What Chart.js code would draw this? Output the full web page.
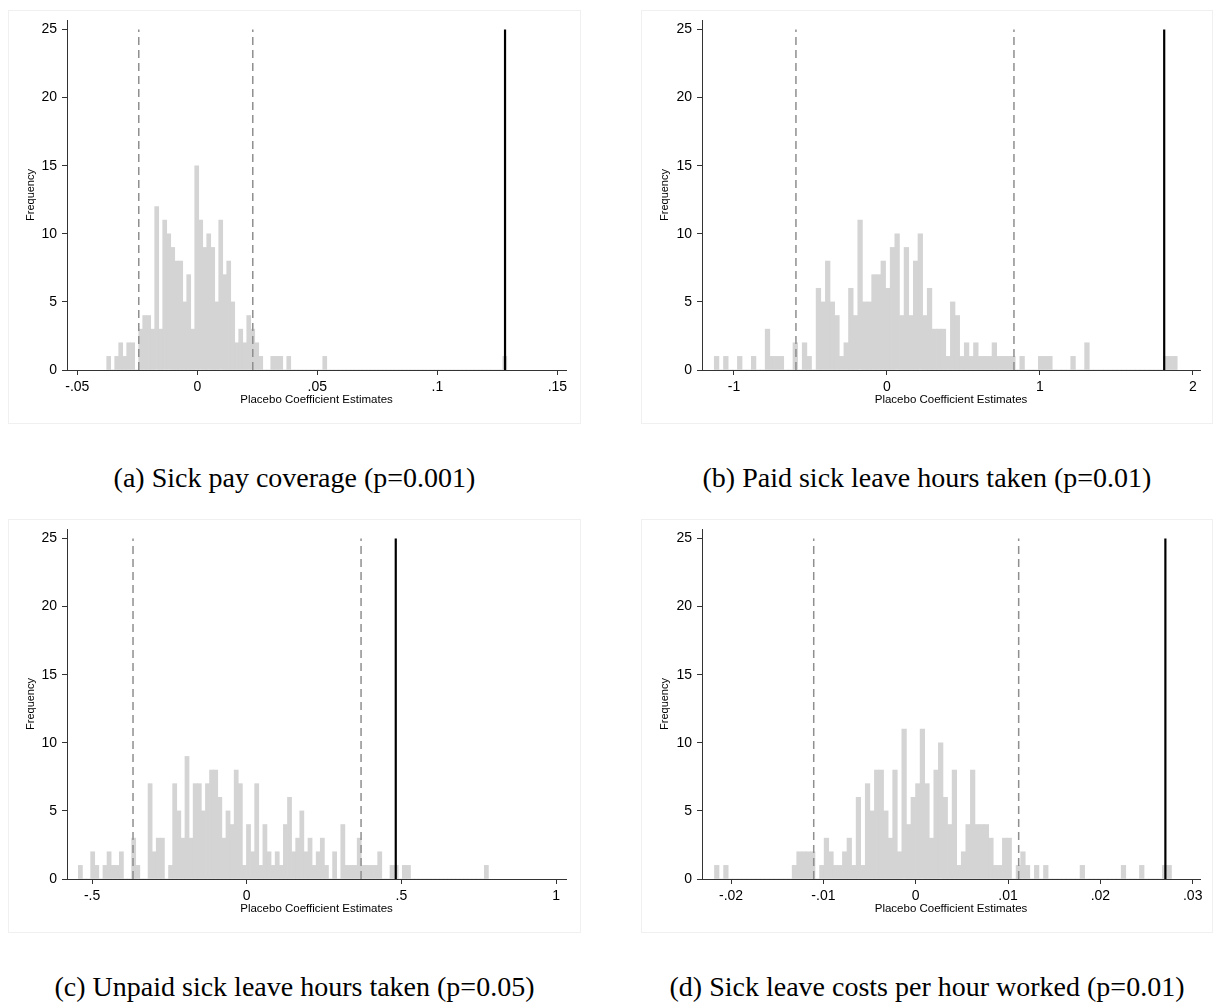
<!DOCTYPE html>
<html>
<head>
<meta charset="utf-8">
<script src="https://cdn.jsdelivr.net/npm/chart.js@4.4.1/dist/chart.umd.min.js"></script>
<style>
  body { margin: 0; background: #fff; width: 1213px; height: 1007px; position: relative; overflow: hidden; }
  .panel { position: absolute; outline: 1px solid #f0f0f0; outline-offset: -1px; }
  .panel canvas { position: absolute; left: 0; top: 0; }
  .caption { position: absolute; font-family: "Liberation Serif", serif; font-size: 28px; line-height: 32px;
             color: #000; text-align: center; white-space: nowrap; }
</style>
</head>
<body>
<div class="panel" style="left:8px;top:10px;width:573px;height:414px"><canvas id="chart-a" width="573" height="414"></canvas></div>
<div class="panel" style="left:641px;top:10px;width:572px;height:414px"><canvas id="chart-b" width="572" height="414"></canvas></div>
<div class="panel" style="left:8px;top:519px;width:573px;height:414px"><canvas id="chart-c" width="573" height="414"></canvas></div>
<div class="panel" style="left:641px;top:519px;width:572px;height:414px"><canvas id="chart-d" width="572" height="414"></canvas></div>

<div class="caption" style="left:8px;top:462px;width:573px">(a) Sick pay coverage (p=0.001)</div>
<div class="caption" style="left:641px;top:462px;width:572px">(b) Paid sick leave hours taken (p=0.01)</div>
<div class="caption" style="left:8px;top:971px;width:573px">(c) Unpaid sick leave hours taken (p=0.05)</div>
<div class="caption" style="left:641px;top:971px;width:572px">(d) Sick leave costs per hour worked (p=0.01)</div>

<script>
// Shared y axis
const Y_TICKS = [0, 5, 10, 15, 20, 25];
const Y_MAX = 25.7;
const LINE_TOP = 25;

// (a) Sick pay coverage - 100 bins
const A_BIN_START = -0.03776;
const A_BIN_WIDTH = 0.001667;
const A_COUNTS = [
  1, 0, 1, 2, 1, 2, 2, 0, 3, 4, 4, 3, 12, 3, 11, 10, 9, 8, 8, 5,
  7, 3, 15, 11, 9, 10, 9, 5, 11, 7, 8, 5, 2, 3, 2, 4, 3, 2, 1, 0,
  0, 1, 1, 1, 0, 1, 0, 0, 0, 0, 0, 0, 0, 0, 1, 0, 0, 0, 0, 0,
  0, 0, 0, 0, 0, 0, 0, 0, 0, 0, 0, 0, 0, 0, 0, 0, 0, 0, 0, 0,
  0, 0, 0, 0, 0, 0, 0, 0, 0, 0, 0, 0, 0, 0, 0, 0, 0, 0, 0, 1
];
const A_XTICKS = [-0.05, 0, 0.05, 0.1, 0.15];
const A_XRANGE = [-0.0543, 0.1536];
const A_CI = [-0.0244, 0.0231];
const A_ACTUAL = 0.1282;

// (b) Paid sick leave hours taken
const B_BIN_START = -1.1288;
const B_BIN_WIDTH = 0.03026;
const B_COUNTS = [
  1, 0, 1, 0, 0, 1, 0, 0, 1, 0, 0, 3, 1, 1, 1, 0, 0, 2, 0, 2,
  1, 0, 6, 5, 8, 5, 4, 1, 2, 6, 4, 11, 5, 5, 7, 7, 8, 6, 9, 10,
  4, 9, 4, 8, 10, 4, 6, 3, 3, 3, 1, 5, 4, 1, 2, 1, 2, 1, 1, 1,
  2, 1, 1, 1, 1, 0, 1, 0, 0, 0, 1, 1, 1, 0, 0, 0, 0, 1, 0, 0,
  2, 0, 0, 0, 0, 0, 0, 0, 0, 0, 0, 0, 0, 0, 0, 0, 0, 1, 1, 1
];
const B_XTICKS = [-1, 0, 1, 2];
const B_XRANGE = [-1.209, 2.046];
const B_CI = [-0.595, 0.830];
const B_ACTUAL = 1.812;

// (c) Unpaid sick leave hours taken
const C_BIN_START = -0.5444;
const C_BIN_WIDTH = 0.013256;
const C_COUNTS = [
  1, 0, 0, 2, 1, 0, 1, 2, 1, 1, 2, 0, 0, 3, 1, 0, 0, 7, 2, 3,
  3, 0, 1, 7, 5, 3, 9, 3, 7, 7, 5, 7, 8, 8, 6, 3, 5, 4, 8, 7,
  1, 4, 2, 7, 1, 4, 2, 1, 2, 1, 4, 6, 2, 3, 5, 2, 3, 1, 2, 3,
  1, 0, 2, 0, 4, 1, 1, 1, 3, 1, 1, 1, 1, 2, 0, 0, 1, 1, 0, 1,
  1, 0, 0, 0, 0, 0, 0, 0, 0, 0, 0, 0, 0, 0, 0, 0, 0, 0, 0, 1
];
const C_XTICKS = [-0.5, 0, 0.5, 1];
const C_XRANGE = [-0.581, 1.032];
const C_CI = [-0.3676, 0.3695];
const C_ACTUAL = 0.4817;

// (d) Sick leave costs per hour worked
const D_BIN_START = -0.0218;
const D_BIN_WIDTH = 0.000495;
const D_COUNTS = [
  1, 0, 1, 0, 0, 0, 0, 0, 0, 0, 0, 0, 0, 0, 0, 0, 0, 1, 2, 2,
  2, 2, 0, 1, 3, 2, 1, 1, 2, 3, 1, 6, 1, 7, 5, 8, 8, 5, 3, 8,
  2, 11, 4, 6, 7, 11, 7, 3, 8, 10, 6, 4, 8, 1, 2, 4, 8, 4, 4, 4,
  3, 1, 1, 3, 3, 0, 1, 2, 1, 0, 1, 0, 1, 0, 0, 0, 0, 0, 0, 0,
  1, 0, 0, 0, 0, 0, 0, 0, 0, 1, 0, 0, 0, 1, 0, 0, 0, 0, 1, 1
];
const D_XTICKS = [-0.02, -0.01, 0, 0.01, 0.02, 0.03];
const D_XRANGE = [-0.02315, 0.03079];
const D_CI = [-0.01105, 0.01115];
const D_ACTUAL = 0.02704;

const BAR_COLOR = '#d4d4d4';
const AXIS_COLOR = '#333333';
const SANS = '"Liberation Sans", Arial, sans-serif';

// Stata style labels: .05, -.05, 0
function stataLabel(v) {
  const s = String(+Number(v).toFixed(4));
  return s.replace(/^(-?)0\./, '$1.');
}

function vline(v) {
  return [{ x: v, y: 0 }, { x: v, y: LINE_TOP }];
}

function drawHistogram(canvasId, p) {
  const bars = p.counts.map((c, k) => ({ x: p.start + p.width * (k + 0.5), y: c }));

  const datasets = [
    {
      type: 'bar', data: bars, backgroundColor: BAR_COLOR, borderWidth: 0,
      barPercentage: 1, categoryPercentage: 1, order: 3
    },
    ...p.ci.map(v => ({
      type: 'line', data: vline(v), borderColor: '#8f8f8f', borderWidth: 1.5,
      borderDash: [8, 5], pointRadius: 0, fill: false, order: 2
    })),
    {
      type: 'line', data: vline(p.actual), borderColor: '#000', borderWidth: 2.2,
      pointRadius: 0, fill: false, order: 1
    }
  ];

  return new Chart(document.getElementById(canvasId), {
    data: { datasets },
    options: {
      responsive: false,
      animation: false,
      layout: { padding: { left: 0, top: 10, right: p.padRight, bottom: 0 } },
      plugins: { legend: { display: false }, tooltip: { enabled: false } },
      scales: {
        x: {
          type: 'linear', min: p.xRange[0], max: p.xRange[1], offset: false,
          afterBuildTicks: s => { s.ticks = p.xTicks.map(v => ({ value: v })); },
          afterFit: s => { s.height = 54; s.paddingLeft = 0; s.paddingRight = 0; },
          grid: { offset: false, drawOnChartArea: false, drawTicks: true, tickLength: 5, color: AXIS_COLOR },
          border: { display: true, color: AXIS_COLOR, width: 1 },
          ticks: {
            autoSkip: false, maxRotation: 0, padding: 4, color: '#000',
            font: { family: SANS, size: 14 }, callback: v => stataLabel(v)
          },
          title: {
            display: true, text: 'Placebo Coefficient Estimates', color: '#000',
            font: { family: SANS, size: 11.5 }, padding: { top: 0, bottom: 17 }
          }
        },
        y: {
          type: 'linear', min: 0, max: Y_MAX,
          afterBuildTicks: s => { s.ticks = Y_TICKS.map(v => ({ value: v })); },
          afterFit: s => { s.width = p.yWidth; s.paddingTop = 0; s.paddingBottom = 0; },
          grid: { drawOnChartArea: false, drawTicks: true, tickLength: 5, color: AXIS_COLOR },
          border: { display: true, color: AXIS_COLOR, width: 1 },
          ticks: { padding: 5, color: '#000', font: { family: SANS, size: 14 } },
          title: {
            display: true, text: 'Frequency', color: '#000',
            font: { family: SANS, size: 11 }, padding: { top: p.yTitlePad, bottom: 0 }
          }
        }
      }
    }
  });
}

drawHistogram('chart-a', {
  start: A_BIN_START, width: A_BIN_WIDTH, counts: A_COUNTS, xTicks: A_XTICKS, xRange: A_XRANGE,
  ci: A_CI, actual: A_ACTUAL, yWidth: 59, padRight: 15, yTitlePad: 16.4
});
drawHistogram('chart-b', {
  start: B_BIN_START, width: B_BIN_WIDTH, counts: B_COUNTS, xTicks: B_XTICKS, xRange: B_XRANGE,
  ci: B_CI, actual: B_ACTUAL, yWidth: 61, padRight: 13, yTitlePad: 17.4
});
drawHistogram('chart-c', {
  start: C_BIN_START, width: C_BIN_WIDTH, counts: C_COUNTS, xTicks: C_XTICKS, xRange: C_XRANGE,
  ci: C_CI, actual: C_ACTUAL, yWidth: 59, padRight: 15, yTitlePad: 16.4
});
drawHistogram('chart-d', {
  start: D_BIN_START, width: D_BIN_WIDTH, counts: D_COUNTS, xTicks: D_XTICKS, xRange: D_XRANGE,
  ci: D_CI, actual: D_ACTUAL, yWidth: 61, padRight: 13, yTitlePad: 17.4
});
</script>
</body>
</html>
